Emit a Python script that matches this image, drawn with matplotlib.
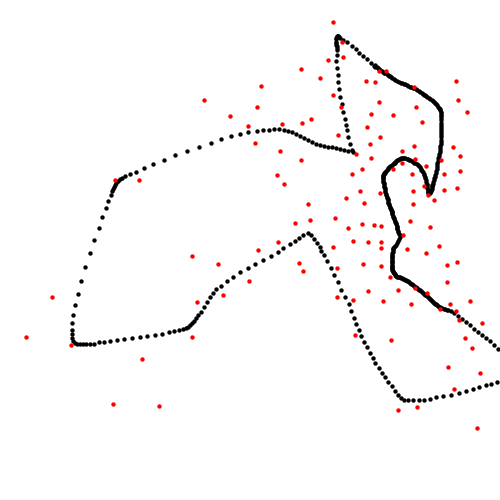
import matplotlib
matplotlib.use("Agg")
from matplotlib import pyplot as plt

# black trail (pixel coords, y down)
path_x = [498, 494, 490, 486, 482, 478, 474, 470, 466, 462, 458, 454, 451, 448, 445, 442, 440, 438, 436, 434,
          432, 430, 428, 426, 424, 422, 420, 418, 416, 414, 412, 410, 408, 406, 404, 402, 400, 398, 396, 395,
          394, 393, 392, 392, 392, 392, 392, 392, 392, 392, 393, 393, 395, 397, 399, 400, 398, 397, 397, 396,
          395, 394, 393, 392, 392, 391, 390, 389, 388, 388, 387, 386, 385, 385, 384, 384, 383, 383, 383, 383,
          384, 385, 387, 388, 390, 392, 394, 395, 397, 399, 401, 403, 405, 408, 410, 413, 415, 418, 420, 421,
          423, 424, 425, 426, 427, 427, 428, 428, 429, 430, 431, 432, 432, 433, 434, 435, 436, 437, 437, 438,
          439, 440, 440, 441, 441, 441, 441, 441, 441, 441, 441, 440, 439, 437, 435, 433, 430, 427, 425, 423,
          420, 417, 414, 411, 408, 405, 402, 399, 395, 392, 390, 388, 385, 383, 380, 378, 375, 374, 371, 367,
          363, 359, 356, 352, 347, 343, 340, 338, 337, 336, 336, 337, 337, 337, 336, 337, 338, 338, 339, 340,
          342, 343, 345, 346, 347, 348, 350, 352, 353,
          348, 344, 340, 336, 332, 328, 324, 320, 316, 312, 308, 304, 300, 296, 292, 288, 284, 279, 274, 269,
          263, 257, 248, 240, 231, 221, 211, 199, 187, 175, 164, 153, 144, 136, 130, 125, 122, 120, 118, 116,
          115, 114, 113, 112, 111, 108, 106, 102, 99, 94, 90, 85, 81, 78, 75, 73, 72, 72, 72, 72,
          73, 75, 77, 80, 83, 86, 90, 94, 99, 104, 110, 117, 124, 132, 140, 147, 155, 162, 169, 174,
          179, 183, 186, 188, 190, 192, 194, 196, 198, 201, 204, 207, 210, 213, 216, 221, 227, 233, 240, 248,
          255, 263, 271, 278, 283, 290, 295, 299, 303, 308, 311, 314, 317, 320, 321, 324, 327, 331, 334, 338,
          341, 345, 349, 351, 354, 356, 359, 361, 364, 367, 370, 373, 375, 379, 382, 385, 388, 392, 395, 398,
          401, 404, 408, 413, 419, 424, 430, 436, 443, 451, 459, 466, 473, 479, 486, 491, 497]
path_y = [349, 345, 341, 338, 335, 332, 329, 325, 322, 319, 316, 313, 311, 310, 309, 308, 307, 306, 304, 303,
          301, 299, 297, 295, 294, 292, 290, 289, 287, 286, 284, 283, 281, 280, 279, 278, 277, 277, 276, 275,
          273, 272, 270, 268, 266, 263, 261, 258, 256, 253, 250, 248, 246, 243, 239, 235, 232, 229, 227, 224,
          222, 219, 217, 214, 212, 210, 208, 205, 203, 200, 198, 195, 192, 189, 187, 184, 182, 179, 177, 175,
          173, 172, 170, 168, 166, 165, 163, 162, 160, 159, 158, 158, 158, 159, 160, 162, 163, 165, 167, 170,
          172, 175, 178, 182, 185, 188, 191, 193, 193, 192, 190, 187, 185, 182, 178, 175, 171, 167, 163, 158,
          154, 150, 146, 142, 137, 133, 129, 125, 120, 116, 113, 110, 108, 105, 103, 101, 99, 97, 95, 94,
          92, 90, 88, 87, 86, 84, 83, 82, 80, 78, 76, 75, 73, 72, 70, 68, 67, 66, 63, 59,
          56, 53, 49, 46, 42, 40, 38, 36, 36, 38, 43, 46, 50, 55, 61, 68, 75, 82, 89, 97,
          104, 112, 119, 125, 130, 137, 144, 150, 152,
          151, 150, 149, 148, 147, 147, 146, 145, 144, 142, 140, 138, 136, 134, 132, 131, 130, 129, 129, 130,
          130, 131, 132, 134, 136, 139, 143, 147, 151, 155, 160, 164, 168, 172, 174, 176, 178, 179, 181, 183,
          185, 187, 189, 191, 195, 201, 208, 217, 228, 240, 253, 267, 281, 294, 305, 315, 323, 330, 334, 338,
          341, 343, 344, 344, 344, 344, 344, 344, 342, 342, 341, 340, 339, 338, 337, 336, 335, 334, 332, 331,
          330, 329, 328, 327, 325, 323, 321, 318, 315, 312, 307, 302, 297, 293, 289, 286, 281, 277, 272, 268,
          264, 260, 256, 252, 248, 244, 241, 238, 235, 233, 235, 239, 243, 247, 251, 255, 261, 268, 275, 282,
          290, 297, 304, 311, 318, 324, 330, 336, 342, 347, 353, 358, 363, 368, 373, 377, 382, 386, 391, 395,
          398, 400, 400, 400, 400, 400, 399, 397, 396, 395, 393, 391, 389, 387, 385, 384, 382]

# where the trail slows down the dots run together into a solid line
slow_x = [446.5, 443.5, 441, 439, 437, 435, 433, 431, 429, 427, 425, 423, 421, 419, 417, 415, 413, 411, 409, 407,
          405, 403, 401, 399, 397, 395.5, 394.5, 393.5, 392.5, 392, 392, 392, 392, 392, 392, 392, 392.5, 393, 394, 396,
          398, 399.5, 399, 397.5, 397, 396.5, 395.5, 394.5, 393.5, 392.5, 392, 391.5, 390.5, 389.5, 388.5, 388, 387.5, 386.5, 385.5, 385,
          384.5, 384, 383.5, 383, 383, 383, 383.5, 384.5, 386, 387.5, 389, 391, 393, 394.5, 396, 398, 400, 402, 404, 406.5,
          409, 411.5, 414, 416.5, 419, 420.5, 422, 423.5, 424.5, 425.5, 426.5, 427, 427.5, 428, 428.5, 429.5, 430.5, 431.5, 432, 432.5,
          433.5, 434.5, 435.5, 436.5, 437, 437.5, 438.5, 439.5, 440, 440.5, 441, 441, 441, 441, 441, 441, 441, 440.5, 439.5, 438,
          436, 434, 431.5, 428.5, 426, 424, 421.5, 418.5, 415.5, 412.5, 409.5, 406.5, 403.5, 400.5, 397, 393.5, 391, 389, 386.5, 384,
          381.5, 379, 376.5, 374.5, 339, 337.5, 336.5, 336, 336, 336, 336.5]
slow_y = [309.5, 308.5, 307.5, 306.5, 305, 303.5, 302, 300, 298, 296, 294.5, 293, 291, 289.5, 288, 286.5, 285, 283.5, 282, 280.5,
          279.5, 278.5, 277.5, 277, 276.5, 275.5, 274, 272.5, 271, 269, 267, 264.5, 262, 259.5, 257, 254.5, 251.5, 249, 247, 244.5,
          241, 237, 233.5, 230.5, 228, 225.5, 223, 220.5, 218, 215.5, 213, 211, 209, 206.5, 204, 201.5, 199, 196.5, 193.5, 190.5,
          188, 185.5, 183, 180.5, 178, 176, 174, 172.5, 171, 169, 167, 165.5, 164, 162.5, 161, 159.5, 158.5, 158, 158, 158.5,
          159.5, 161, 162.5, 164, 166, 168.5, 171, 173.5, 176.5, 180, 183.5, 186.5, 189.5, 192, 193, 192.5, 191, 188.5, 186, 183.5,
          180, 176.5, 173, 169, 165, 160.5, 156, 152, 148, 144, 139.5, 135, 131, 127, 122.5, 118, 114.5, 111.5, 109, 106.5,
          104, 102, 100, 98, 96, 94.5, 93, 91, 89, 87.5, 86.5, 85, 83.5, 82.5, 81, 79, 77, 75.5, 74, 72.5,
          71, 69, 67, 65, 36.5, 36, 37, 39, 41.5, 44.5, 48]

# red scatter
dots_x = [204, 230, 248, 115, 139, 333, 342, 328, 343, 301, 320, 261, 333, 257, 282, 302, 311, 341, 366, 375,
          379, 386, 414, 456, 458, 467, 379, 371, 393, 416, 422, 367, 380, 370, 338, 255, 280, 301, 356, 371,
          402, 414, 402, 415, 453, 460, 441, 460, 444, 426, 393, 412, 362, 352, 277, 284, 413, 444, 457, 424,
          428, 434, 360, 380, 346, 364, 413, 308, 295, 310, 335, 348, 362, 374, 381, 410, 430, 403, 278, 353,
          368, 381, 439, 407, 333, 381, 258, 299, 303, 337, 363, 381, 426, 447, 457, 390, 447, 398, 383, 411,
          415, 427, 450, 470, 440, 456, 459, 482, 465, 472, 391, 448, 480, 337, 353, 368, 355, 249, 454, 398,
          417, 477, 192, 218, 223, 197, 52, 26, 71, 192, 142, 113, 159]
dots_y = [100, 116, 126, 180, 180, 22, 42, 60, 57, 69, 78, 86, 95, 107, 124, 123, 119, 107, 81, 82,
          71, 71, 87, 81, 100, 112, 102, 114, 115, 107, 122, 127, 137, 144, 135, 143, 151, 160, 154, 158,
          151, 146, 163, 159, 147, 156, 160, 171, 174, 166, 169, 174, 169, 174, 175, 184, 191, 190, 188, 186,
          195, 200, 191, 193, 198, 203, 204, 204, 223, 220, 218, 228, 224, 225, 226, 221, 227, 235, 242, 241,
          242, 242, 246, 249, 247, 248, 250, 263, 271, 268, 264, 266, 253, 265, 262, 277, 282, 290, 301, 304,
          288, 293, 304, 301, 309, 311, 320, 323, 338, 348, 340, 367, 373, 297, 300, 291, 335, 281, 389, 410,
          407, 428, 256, 264, 295, 302, 297, 337, 345, 337, 359, 404, 406]

fig = plt.figure(figsize=(5, 5), dpi=100)
ax = fig.add_axes([0, 0, 1, 1])
ax.scatter(path_x, path_y, s=10, c='black', linewidths=0, zorder=2)
ax.scatter(slow_x, slow_y, s=10, c='black', linewidths=0, zorder=2)
ax.scatter(dots_x, dots_y, s=10, c='#ff0000', linewidths=0, zorder=3)
ax.set_xlim(0, 500)
ax.set_ylim(500, 0)
ax.axis('off')

fig.savefig('out.png', dpi=100)
